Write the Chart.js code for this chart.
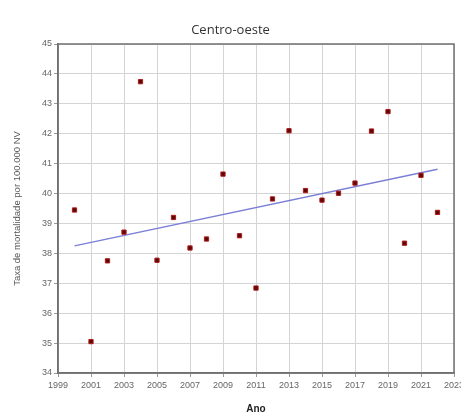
<!DOCTYPE html>
<html>
<head>
<meta charset="utf-8">
<script src="https://cdn.jsdelivr.net/npm/chart.js@4/dist/chart.umd.min.js"></script>
<style>
	html, body { margin: 0; padding: 0; background: #fff; }
	#wrap { width: 461px; height: 419px; }
</style>
</head>
<body>
<div id="wrap"><canvas id="chartCO" width="461" height="419"></canvas></div>
<script>
const years = [2000, 2001, 2002, 2003, 2004, 2005, 2006, 2007, 2008, 2009, 2010, 2011,
	2012, 2013, 2014, 2015, 2016, 2017, 2018, 2019, 2020, 2021, 2022];
const rates = [39.45, 35.05, 37.75, 38.71, 43.74, 37.77, 39.2, 38.18, 38.48, 40.65, 38.59, 36.84,
	39.82, 42.1, 40.1, 39.78, 40.01, 40.35, 42.09, 42.74, 38.34, 40.61, 39.37];
const trendYears = [2000, 2022];
const trendValues = [38.25, 40.81];

// frame around the plot area (top and right sides too)
const frame = {
	id: "frame",
	afterDraw(chart) {
		const a = chart.chartArea;
		const ctx = chart.ctx;
		ctx.save();
		ctx.strokeStyle = "#707070";
		ctx.lineWidth = 1.5;
		ctx.strokeRect(a.left, a.top, a.right - a.left, a.bottom - a.top);
		ctx.restore();
	},
};

const ctx = document.getElementById("chartCO").getContext("2d");
new Chart(ctx, {
	type: "scatter",
	data: {
		datasets: [
			{
				label: "Taxa",
				data: years.map((y, i) => ({ x: y, y: rates[i] })),
				pointStyle: "rect",
				pointRadius: 3,
				backgroundColor: "#5a0808",
				borderColor: "#b01818",
				borderWidth: 1,
				order: 1,
			},
			{
				label: "Tendência",
				type: "line",
				data: trendYears.map((y, i) => ({ x: y, y: trendValues[i] })),
				borderColor: "#7b7fd6",
				borderWidth: 1.5,
				pointRadius: 0,
				order: 2,
			},
		],
	},
	options: {
		responsive: false,
		animation: false,
		layout: { padding: { left: 0, right: 0, top: 0, bottom: 4 } },
		plugins: {
			legend: { display: false },
			tooltip: { enabled: false },
			title: {
				display: true,
				text: "Centro-oeste",
				color: "#333",
				font: { family: "Open Sans", size: 13, weight: "normal" },
				padding: { top: 22, bottom: 6.4 },
			},
		},
		scales: {
			x: {
				type: "linear",
				min: 1999,
				max: 2023,
				ticks: {
					stepSize: 2,
					color: "#666",
					font: { family: "Liberation Sans", size: 9 },
					padding: 3,
					maxRotation: 0,
					callback: (v) => String(v),
				},
				grid: { color: "#d4d4d4", tickLength: 4, tickColor: "#999" },
				border: { color: "#707070", width: 1.5 },
				title: { display: true, text: "Ano", color: "#222", font: { family: "Liberation Sans", size: 10, weight: "bold" }, padding: { top: 4, bottom: 0 } },
				afterFit: (scale) => {
					scale.height = 42;
					scale.paddingRight = 7;
				},
			},
			y: {
				min: 34,
				max: 45,
				ticks: { stepSize: 1, color: "#666", font: { family: "Liberation Sans", size: 9 }, padding: 2 },
				grid: { color: "#d4d4d4", tickLength: 4, tickColor: "#999" },
				border: { color: "#707070", width: 1.5 },
				title: { display: true, text: "Taxa de mortalidade por 100.000 NV", color: "#555", font: { family: "Liberation Sans", size: 9.5 }, padding: { top: 12, bottom: 4 } },
				afterFit: (scale) => { scale.width = 58; },
			},
		},
	},
	plugins: [frame],
});
</script>
</body>
</html>
